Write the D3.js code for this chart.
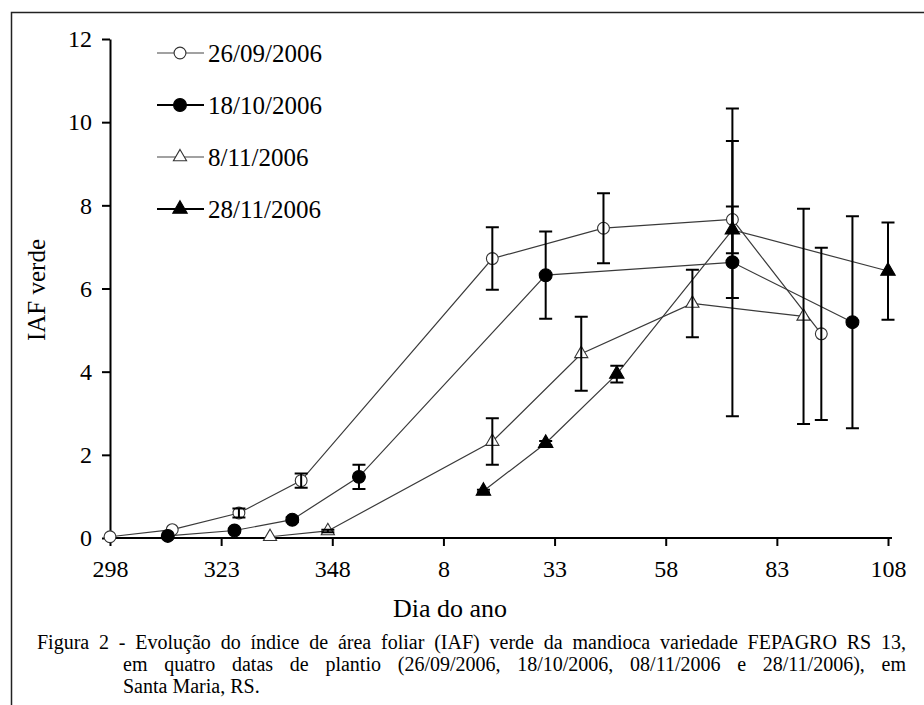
<!DOCTYPE html>
<html lang="pt">
<head>
<meta charset="utf-8">
<title>IAF verde - mandioca</title>
<script src="https://d3js.org/d3.v7.min.js"></script>
<style>
body { margin: 0; background: #fff; }
svg { font-family: "Liberation Serif", "DejaVu Serif", serif; }
.axis path, .axis line { stroke: #000; stroke-width: 2; }
.axis text { font-size: 24px; fill: #000; font-family: "Liberation Serif", serif; }
.serie { fill: none; stroke: #3a3a3a; stroke-width: 1.2; }
.erro { stroke: #000; stroke-width: 2; fill: none; }
.legenda { font-size: 25px; fill: #000; }
.legenda-nota { font-size: 20px; fill: #000; }
</style>
</head>
<body>
<script>

// eixo x: dia corrido (depois de 365 volta a contar em 2007)
var tickDias = [298, 323, 348, 373, 398, 423, 448, 473];
var tickLabels = ["298", "323", "348", "8", "33", "58", "83", "108"];
var yTicks = [0, 2, 4, 6, 8, 10, 12];

// 26/09/2006
var dias1 = [298, 312, 327, 341, 384, 409, 438, 458];
var iaf1  = [0.03, 0.20, 0.60, 1.38, 6.72, 7.45, 7.66, 4.91];
var erro1 = [0, 0, 0.11, 0.17, 0.75, 0.84, 1.89, 2.07];

// 18/10/2006
var dias2 = [311, 326, 339, 354, 396, 438, 465];
var iaf2  = [0.05, 0.18, 0.44, 1.47, 6.32, 6.63, 5.19];
var erro2 = [0, 0.04, 0.06, 0.29, 1.05, 3.70, 2.55];

// 8/11/2006
var dias3 = [334, 347, 384, 404, 429, 454];
var iaf3  = [0.03, 0.17, 2.32, 4.43, 5.64, 5.33];
var erro3 = [0, 0.03, 0.56, 0.89, 0.81, 2.59];

// 28/11/2006
var dias4 = [382, 396, 412, 438, 473];
var iaf4  = [1.13, 2.28, 3.94, 7.41, 6.42];
var erro4 = [0.03, 0.05, 0.20, 0.56, 1.17];

var nomes = ["26/09/2006", "18/10/2006", "8/11/2006", "28/11/2006"];

var legenda1 = "Figura 2 - Evolução do índice de área foliar (IAF) verde da mandioca variedade FEPAGRO RS 13,";
var legenda2 = "em quatro datas de plantio (26/09/2006, 18/10/2006, 08/11/2006 e 28/11/2006), em";
var legenda3 = "Santa Maria, RS.";

var width = 924,
    height = 705;

var x = d3.scaleLinear().domain([298, 473]).range([110, 888]);
var y = d3.scaleLinear().domain([0, 12]).range([538, 39]);

var svg = d3.select("body")
    .append("svg")
        .attr("width", width)
        .attr("height", height);

// moldura
svg.append("path")
    .attr("d", "M11.5," + height + "V12.5H" + width)
    .attr("fill", "none")
    .attr("stroke", "#222")
    .attr("stroke-width", 1.5);

function juntar(dias, iaf, erro) {
    return dias.map(function(d, i) { return {dia: d, iaf: iaf[i], erro: erro[i]}; });
}

var series = [
    {nome: nomes[0], dados: juntar(dias1, iaf1, erro1), forma: d3.symbolCircle, tam: 110, cheio: false},
    {nome: nomes[1], dados: juntar(dias2, iaf2, erro2), forma: d3.symbolCircle, tam: 130, cheio: true},
    {nome: nomes[2], dados: juntar(dias3, iaf3, erro3), forma: d3.symbolTriangle, tam: 75, cheio: false},
    {nome: nomes[3], dados: juntar(dias4, iaf4, erro4), forma: d3.symbolTriangle, tam: 90, cheio: true}
];

var linha = d3.line()
    .x(function(d) { return x(d.dia); })
    .y(function(d) { return y(d.iaf); });

// eixos
svg.append("g")
    .attr("class", "axis")
    .attr("transform", "translate(0,538)")
    .call(d3.axisBottom(x).tickValues(tickDias).tickSize(8).tickSizeOuter(0).tickPadding(14)
        .tickFormat(function(d, i) { return tickLabels[i]; }))
    .call(function(g) { g.select(".domain").attr("d", "M110,0H892"); });

svg.append("g")
    .attr("class", "axis")
    .attr("transform", "translate(110,0)")
    .call(d3.axisLeft(y).tickValues(yTicks).tickSize(8).tickSizeOuter(0).tickPadding(10));

// linhas
series.forEach(function(s) {
    svg.append("path")
        .attr("class", "serie")
        .attr("d", linha(s.dados));
});

// marcadores
series.forEach(function(s) {
    svg.selectAll(null)
        .data(s.dados)
        .enter().append("path")
        .attr("transform", function(d) { return "translate(" + x(d.dia) + "," + y(d.iaf) + ")"; })
        .attr("d", d3.symbol().type(s.forma).size(s.tam))
        .attr("fill", s.cheio ? "#000" : "#fff")
        .attr("stroke", s.cheio ? "#000" : "#333")
        .attr("stroke-width", 1.1);
});

// barras de erro por cima
series.forEach(function(s) {
    var comErro = s.dados.filter(function(d) { return d.erro > 0; });
    svg.selectAll(null)
        .data(comErro)
        .enter().append("path")
        .attr("class", "erro")
        .attr("d", function(d) {
            var cx = x(d.dia), y1 = y(d.iaf + d.erro), y0 = y(d.iaf - d.erro);
            return "M" + (cx - 6.5) + "," + y1 + "H" + (cx + 6.5) +
                   "M" + cx + "," + y1 + "V" + y0 +
                   "M" + (cx - 6.5) + "," + y0 + "H" + (cx + 6.5);
        });
});

// legenda das series
series.forEach(function(s, i) {
    var ly = 53 + 52 * i;
    svg.append("line")
        .attr("x1", 157).attr("x2", 204)
        .attr("y1", ly).attr("y2", ly)
        .attr("stroke", s.cheio ? "#000" : "#444")
        .attr("stroke-width", s.cheio ? 2 : 1.2);
    svg.append("path")
        .attr("transform", "translate(180," + ly + ")")
        .attr("d", d3.symbol().type(s.forma).size(s.tam))
        .attr("fill", s.cheio ? "#000" : "#fff")
        .attr("stroke", s.cheio ? "#000" : "#333")
        .attr("stroke-width", 1.1);
    svg.append("text")
        .attr("class", "legenda")
        .attr("x", 208)
        .attr("y", ly)
        .attr("dy", "0.35em")
        .text(s.nome);
});

// titulos dos eixos
svg.append("text")
    .attr("class", "legenda")
    .attr("x", 450)
    .attr("y", 617)
    .attr("text-anchor", "middle")
    .style("font-size", "26px")
    .text("Dia do ano");

svg.append("text")
    .attr("class", "legenda")
    .attr("transform", "translate(45,290) rotate(-90)")
    .attr("text-anchor", "middle")
    .style("font-size", "25px")
    .text("IAF verde");

// legenda da figura, justificada abrindo o espaco entre palavras
function justificar(txt, x0, x1, yb) {
    var t = svg.append("text").attr("class", "legenda-nota")
        .attr("x", x0).attr("y", yb)
        .text(txt);
    if (x1) {
        var falta = (x1 - x0) - t.node().getComputedTextLength();
        var espacos = txt.split(" ").length - 1;
        if (falta > 0) t.style("word-spacing", (falta / espacos) + "px");
    }
}
justificar(legenda1, 37, 906, 649);
justificar(legenda2, 123, 906, 671);
justificar(legenda3, 123, null, 693);

</script>
</body>
</html>
